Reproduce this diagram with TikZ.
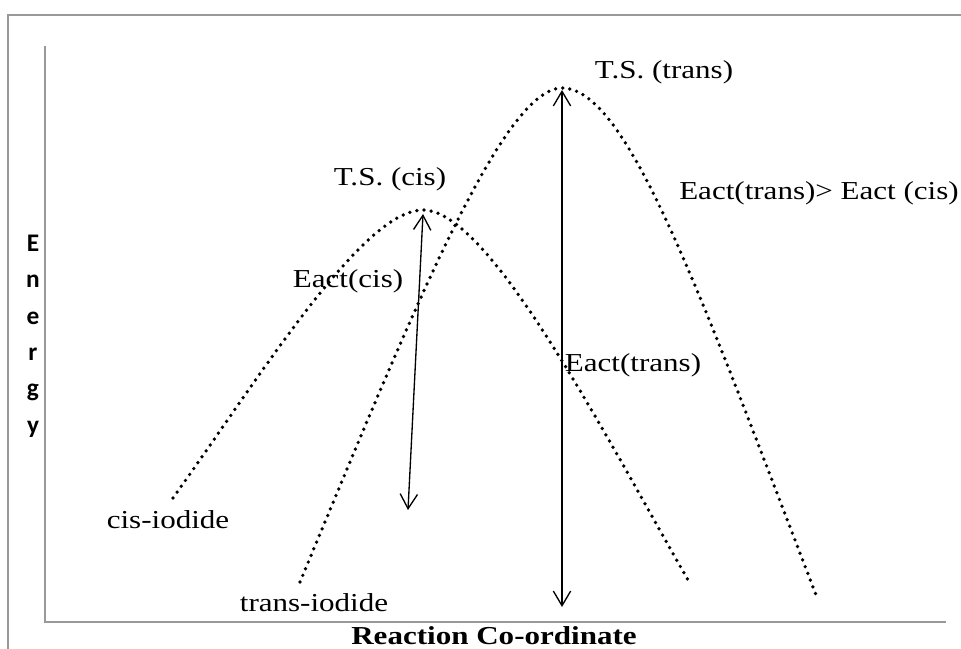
\documentclass[tikz,border=0pt]{standalone}
\usepackage{fontspec}
\setmainfont[FakeStretch=1.2]{Liberation Serif}
\newfontfamily\energyfont{Carlito}
\usetikzlibrary{arrows.meta}

\begin{document}
\begin{tikzpicture}[
  x=0.75pt, y=-0.75pt,
  axisline/.style={draw=black!40, line width=1.5pt},
  dotline/.style={line width=2.8pt, line cap=round, dash pattern=on 0pt off 5.4pt},
  arrow/.style={{Straight Barb[length=11pt,width=13pt]}-{Straight Barb[length=11pt,width=13pt]},
                line width=1pt},
  lbl/.style={inner sep=0pt, font=\fontsize{19.4}{23}\selectfont}
]
  \useasboundingbox (0,0) rectangle (961,649);

  \draw[axisline] (8,649) -- (8,15) -- (961,15);
  \draw[axisline] (45,46) -- (45,622) -- (946,622);

  \coordinate (cisstart) at (173,498);
  \coordinate (tscis) at (423,210);
  \coordinate (cisend) at (688,580);
  \coordinate (transstart) at (300,582);
  \coordinate (tstrans) at (562,88);
  \coordinate (transend) at (818,600);

  \draw[dotline] (cisstart) .. controls (263,372) and (363,210) .. (tscis)
                            .. controls (488,210) and (598,422) .. (cisend);
  \draw[dotline] (transstart) .. controls (410,318) and (502,88) .. (tstrans)
                              .. controls (627,88) and (698,288) .. (transend);

  \coordinate (cistop) at (423,214);
  \coordinate (cisbot) at (408,510);
  \coordinate (transtop) at (562,90);
  \coordinate (transbot) at (562,607);

  \draw[arrow] (cistop) -- (cisbot);
  \draw[arrow] (transtop) -- (transbot);

  \node[lbl] (tstranslbl) at (664,72) {T.S. (trans)};
  \node[lbl] (tscislbl) at (390,179) {T.S. (cis)};
  \node[lbl] (compare) at (819,193) {Eact(trans)> Eact (cis)};
  \node[lbl] (eactcis) at (348,281) {Eact(cis)};
  \node[lbl] (eacttrans) at (633,365) {Eact(trans)};
  \node[lbl] (cislbl) at (168,520) {cis-iodide};
  \node[lbl] (translbl) at (314,603) {trans-iodide};
  \node[lbl, font=\bfseries\fontsize{19.4}{23}\selectfont] (xlabel) at (494,636) {Reaction Co-ordinate};
  \node[inner sep=0pt, align=center, font=\energyfont\bfseries\fontsize{19}{27.3}\selectfont]
    (ylabel) at (33,336) {E\\n\\e\\r\\g\\y};
\end{tikzpicture}
\end{document}
